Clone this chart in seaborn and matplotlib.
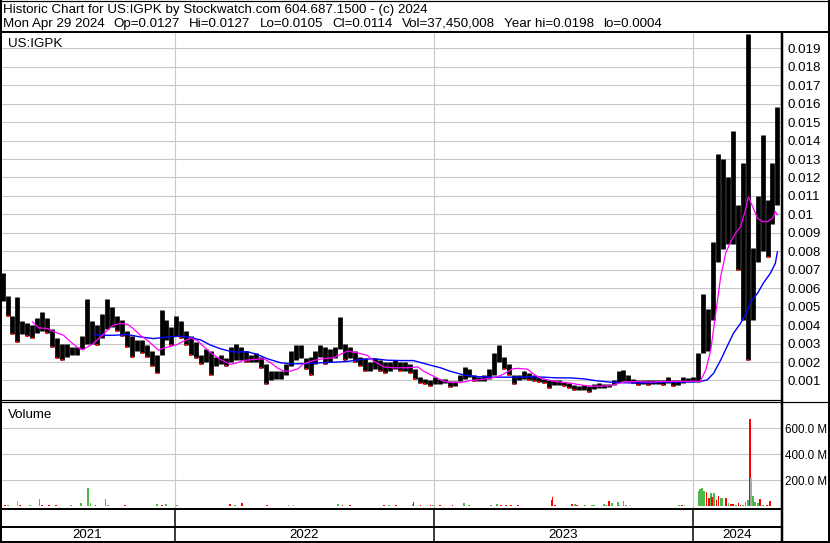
import numpy as np
import pandas as pd
import matplotlib
matplotlib.use("Agg")
import matplotlib.pyplot as plt
import matplotlib.dates as mdates
from matplotlib.lines import Line2D
import seaborn as sns

# ---------------- data ----------------
START = "2021-04-30"
week_center_first = "2021-05-03"

week_high_milli = [
    6.8, 5.6, 4.5, 5.5, 4.2, 4.1, 4.0, 4.4, 4.7, 4.4,
    3.8, 3.3, 3.0, 3.0, 2.8, 2.8, 3.4, 5.4, 4.2, 4.0,
    4.6, 5.4, 5.0, 4.5, 4.3, 3.7, 3.4, 3.2, 3.2, 2.9,
    2.6, 2.4, 4.8, 4.3, 3.9, 4.5, 4.2, 3.7, 3.4, 3.1,
    2.4, 2.7, 2.6, 2.3, 2.4, 2.2, 2.8, 3.0, 2.8, 2.6,
    2.4, 2.5, 2.3, 1.9, 1.5, 1.5, 1.5, 1.9, 2.6, 2.9,
    2.9, 2.2, 2.3, 2.6, 2.9, 2.8, 2.7, 2.8, 4.45, 3.0,
    2.8, 2.6, 2.3, 2.2, 2.0, 2.2, 2.1, 2.0, 2.0, 2.1,
    2.0, 2.0, 1.9, 1.6, 1.2, 1.1, 1.0, 1.2, 1.1, 1.1,
    0.95, 0.95, 1.3, 1.75, 1.6, 1.3, 1.2, 1.3, 1.6, 2.5,
    2.9, 2.3, 1.9, 1.3, 1.3, 1.5, 1.4, 1.3, 1.2, 1.1,
    1.0, 1.0, 1.0, 0.9, 0.85, 0.75, 0.7, 0.75, 0.7, 0.8,
    0.85, 0.8, 0.8, 1.05, 1.5, 1.55, 1.3, 1.1, 1.05, 1.0,
    1.0, 1.0, 1.0, 1.0, 1.2, 1.05, 1.0, 1.2, 1.15, 1.2,
    2.5, 5.7, 4.9, 8.5, 13.3, 13.0, 12.0, 14.5, 10.5, 12.8,
    19.8, 8.2, 11.0, 14.3, 10.8, 12.8, 15.8,
]
week_low_milli = [
    5.3, 4.5, 3.5, 3.1, 3.5, 3.4, 3.3, 3.6, 3.7, 3.6,
    2.8, 2.2, 2.1, 2.3, 2.4, 2.4, 2.7, 3.0, 3.0, 2.9,
    3.3, 3.8, 3.9, 3.7, 3.4, 2.8, 2.3, 2.6, 2.5, 2.3,
    1.8, 1.4, 2.6, 3.2, 2.9, 3.4, 3.3, 2.9, 2.4, 2.2,
    1.9, 2.0, 1.3, 1.8, 1.9, 1.8, 2.0, 2.1, 2.1, 2.0,
    2.0, 2.0, 1.7, 0.8, 1.0, 1.1, 1.1, 1.3, 1.8, 2.1,
    2.2, 1.6, 1.3, 1.9, 2.3, 1.9, 2.0, 2.2, 2.7, 2.1,
    2.2, 2.0, 1.8, 1.5, 1.5, 1.6, 1.5, 1.4, 1.5, 1.6,
    1.5, 1.5, 1.4, 1.1, 0.85, 0.8, 0.7, 0.8, 0.8, 0.85,
    0.65, 0.7, 0.95, 1.1, 1.2, 0.95, 0.95, 0.95, 1.1, 1.3,
    2.0, 1.6, 1.3, 0.8, 1.0, 1.1, 1.05, 0.95, 0.9, 0.85,
    0.6, 0.75, 0.75, 0.7, 0.6, 0.5, 0.5, 0.5, 0.4, 0.55,
    0.6, 0.6, 0.65, 0.75, 0.9, 0.95, 0.95, 0.85, 0.75, 0.8,
    0.75, 0.8, 0.8, 0.75, 0.85, 0.7, 0.75, 0.85, 0.9, 0.9,
    0.9, 2.5, 2.6, 4.3, 7.4, 8.1, 8.4, 8.4, 7.0, 4.3,
    2.1, 4.3, 7.4, 8.0, 7.7, 9.5, 10.5,
]

# short moving average (magenta): day offset from START, value (thousandths)
mag_day = [45, 54, 66, 75, 89, 99, 109, 116, 123, 131, 141, 151, 159, 169, 179, 187,
           197, 207, 216, 223, 230, 240, 249, 258, 268, 278, 282, 296, 310, 324, 334,
           342, 357, 371, 381, 390, 399, 409, 419, 427, 441, 455, 469, 479, 489, 503,
           517, 526, 540, 554, 574, 588, 596, 610, 624, 634, 648, 662, 676, 691, 705,
           715, 722, 729, 743, 751, 761, 775, 789, 803, 822, 841, 860, 878, 898, 916,
           934, 954, 972, 986, 994, 1001, 1008, 1015, 1022, 1029, 1036, 1043, 1050,
           1054, 1060, 1067, 1074, 1081, 1088, 1092, 1095]
mag_milli = [4.18, 3.85, 3.82, 3.64, 3.45, 3.09, 2.78, 2.67, 2.82, 3.0, 3.36, 3.73, 4.0,
             4.09, 4.05, 3.82, 3.45, 3.18, 2.87, 2.64, 2.76, 2.85, 2.95, 3.13, 3.3, 3.15,
             3.0, 2.5, 2.14, 1.87, 1.96, 2.08, 2.14, 2.18, 1.96, 1.69, 1.51, 1.51, 1.63,
             1.9, 2.08, 2.18, 2.23, 2.41, 2.59, 2.5, 2.36, 2.05, 1.74, 1.69, 1.69, 1.74,
             1.51, 1.24, 0.96, 0.9, 0.88, 1.0, 1.05, 1.12, 1.27, 1.48, 1.63, 1.66, 1.61,
             1.36, 1.13, 1.0, 0.91, 0.86, 0.73, 0.68, 0.73, 0.91, 0.95, 0.91, 0.95, 0.95,
             0.96, 0.95, 1.57, 2.65, 4.64, 6.63, 7.89, 8.52, 8.98, 9.34, 10.24, 10.96,
             10.42, 9.79, 9.61, 9.61, 9.79, 10.15, 9.97]

# long moving average (blue)
blue_day = [131, 141, 159, 179, 197, 216, 235, 254, 268, 282, 296, 310, 328, 348, 362,
            376, 395, 413, 433, 451, 469, 489, 507, 526, 545, 564, 582, 602, 620, 634,
            653, 672, 691, 709, 729, 747, 765, 785, 803, 822, 841, 860, 878, 898, 916,
            934, 954, 972, 986, 996, 1005, 1015, 1025, 1033, 1043, 1053, 1057, 1067,
            1075, 1085, 1092, 1095]
blue_milli = [3.51, 3.45, 3.45, 3.49, 3.36, 3.27, 3.36, 3.4, 3.33, 3.2, 2.92, 2.72, 2.54,
              2.56, 2.41, 2.18, 1.96, 1.9, 1.92, 1.96, 1.99, 2.03, 2.14, 2.18, 2.1, 2.08,
              2.08, 1.87, 1.69, 1.5, 1.3, 1.21, 1.18, 1.18, 1.18, 1.21, 1.18, 1.14, 1.14,
              1.09, 0.98, 0.91, 0.88, 0.86, 0.88, 0.91, 0.91, 0.93, 0.95, 1.03, 1.39, 2.11,
              2.92, 3.56, 4.1, 4.82, 5.27, 5.73, 6.27, 6.81, 7.35, 7.98]

# daily volume bars (day offset from START, millions, colour code g/r/k)
vol_day = [1, 6, 11, 24, 27, 42, 55, 58, 68, 78, 100, 113, 124, 127, 134, 148, 151, 158,
           166, 176, 197, 211, 221, 228, 233, 249, 275, 289, 324, 331, 341, 376, 406, 413,
           451, 476, 482, 493, 540, 547, 557, 581, 582, 592, 606, 610, 620, 637, 653, 660,
           669, 691, 700, 705, 712, 719, 729, 758, 777, 778, 781, 786, 806, 810, 813, 824,
           834, 837, 850, 853, 858, 862, 870, 872, 878, 881, 888, 898, 909, 947, 956, 960,
           964, 984, 986, 989, 992, 995, 998, 1001, 1003, 1006, 1009, 1012, 1015, 1017,
           1022, 1026, 1029, 1032, 1036, 1040, 1043, 1047, 1050, 1053, 1056, 1058, 1060,
           1063, 1067, 1070, 1071, 1075, 1080, 1085, 1089, 1093, 1095]
vol_m = [112, 10, 8, 41, 10, 8, 56, 10, 8, 8, 8, 23, 143, 23, 10, 56, 10, 5,
         5, 8, 5, 5, 18, 10, 18, 8, 5, 5, 20, 8, 28, 8, 8, 8,
         5, 20, 8, 8, 8, 8, 8, 20, 36, 8, 8, 8, 8, 8, 28, 8,
         5, 8, 18, 10, 10, 10, 10, 5, 50, 72, 10, 5, 18, 18, 10, 8,
         10, 10, 18, 8, 41, 23, 36, 10, 41, 8, 8, 5, 5, 5, 10, 8,
         8, 120, 136, 143, 120, 110, 66, 100, 70, 100, 50, 79, 60, 63,
         63, 23, 15, 15, 10, 23, 10, 10, 36, 49, 672, 220, 80,
         36, 23, 56, 36, 10, 10, 41, 10, 41, 20]
vol_col = list("krgkrggrrrggggrgg"
               "rrrrggrgg"
               "rkrgrrgk"
               "ggrrrgrkrrrgrrgg"
               "gggrrrrg"
               "rrrrrgrgg"
               "gggrgggggkkrrgr"
               "gg"
               "gggrrgrgrrggrgrrgrrgggrkgggrrgrr")

years = ["2021", "2022", "2023", "2024"]
price_ticks = [0.001, 0.002, 0.003, 0.004, 0.005, 0.006, 0.007, 0.008, 0.009, 0.010,
               0.011, 0.012, 0.013, 0.014, 0.015, 0.016, 0.017, 0.018, 0.019]
vol_ticks = [200, 400, 600]
title1 = "Historic Chart for US:IGPK by Stockwatch.com 604.687.1500 - (c) 2024"
title2_parts = ["Mon Apr 29 2024", "Op=0.0127", "Hi=0.0127", "Lo=0.0105", "Cl=0.0114",
                "Vol=37,450,008", "Year hi=0.0198", "lo=0.0004"]

# ---------------- frames ----------------
start = pd.Timestamp(START)
weeks = pd.date_range(week_center_first, periods=len(week_high_milli), freq="7D")
hi = np.array(week_high_milli) / 1000.0
lo = np.array(week_low_milli) / 1000.0
# a weekly range is joined to the previous week's range (prices move continuously)
prev_hi = np.r_[hi[0], hi[:-1]]
prev_lo = np.r_[lo[0], lo[:-1]]
draw_lo = np.where(lo > prev_hi, prev_hi, lo)
draw_hi = np.where(hi < prev_lo, prev_lo, hi)
price = pd.DataFrame({"date": weeks, "high": hi, "low": lo,
                      "dlo": draw_lo, "dhi": draw_hi})
price["down"] = price["low"] < price["low"].shift(1)
mag = pd.DataFrame({"date": start + pd.to_timedelta(mag_day, unit="D"),
                    "v": np.array(mag_milli) / 1000.0})
blue = pd.DataFrame({"date": start + pd.to_timedelta(blue_day, unit="D"),
                     "v": np.array(blue_milli) / 1000.0})
n = min(len(vol_day), len(vol_m), len(vol_col))
vol = pd.DataFrame({"date": start + pd.to_timedelta(vol_day[:n], unit="D"),
                    "v": vol_m[:n], "c": vol_col[:n]})
cmap = {"g": "#4CB84C", "r": "#FF0000", "k": "#A8A8A8"}

# ---------------- layout ----------------
sns.set_theme(style="white")
plt.rcParams["font.family"] = ["Liberation Sans", "DejaVu Sans"]
W, H = 830, 543
fig = plt.figure(figsize=(W / 100, H / 100), dpi=100)
fig.patch.set_facecolor("white")


def rect(x0, y0, x1, y1):
    return [x0 / W, 1 - y1 / H, (x1 - x0) / W, (y1 - y0) / H]


def fline(x0, y0, x1, y1, lw=1.0, color="black"):
    fig.add_artist(Line2D([x0 / W, x1 / W], [1 - y0 / H, 1 - y1 / H],
                          transform=fig.transFigure, color=color, lw=lw * 0.72,
                          solid_capstyle="butt", zorder=50))


d2022 = mdates.date2num(pd.Timestamp("2022-01-01"))
d2024 = mdates.date2num(pd.Timestamp("2024-01-01"))
XL = (d2022 - 246.6, d2024 + 125.4)
year_bounds = [pd.Timestamp(f"{y}-01-01") for y in ("2022", "2023", "2024")]
GRID = "#C8C8C8"
FS = 9.6

# price panel
ax = fig.add_axes(rect(0, 33, 782, 400))
ax.set_facecolor("white")
for t in price_ticks:
    ax.axhline(t, color=GRID, lw=0.8, zorder=0)
for b in year_bounds:
    ax.axvline(b, color=GRID, lw=0.8, zorder=0)
ax.vlines(price["date"], price["dlo"], price["dhi"], color="black", lw=3.4, zorder=2)
dn = price[price["down"]]
sns.scatterplot(x=dn["date"], y=dn["low"], ax=ax, color="#FF0000", marker="s", s=4,
                linewidth=0, zorder=3, legend=False)
sns.lineplot(data=blue, x="date", y="v", ax=ax, color="#0000FF", lw=1.0, zorder=4)
sns.lineplot(data=mag, x="date", y="v", ax=ax, color="#FF00FF", lw=0.9, zorder=5)
ax.set_xlim(*XL)
ax.set_ylim(-0.000057, 0.01983)
ax.set_xticks([])
ax.set_xlabel("")
ax.set_ylabel("")
ax.yaxis.tick_right()
ax.set_yticks(price_ticks)
ax.set_yticklabels([f"{t:g}" for t in price_ticks], fontsize=FS, color="black")
ax.tick_params(axis="y", length=0, pad=4)
for s in ax.spines.values():
    s.set_visible(False)
fig.text(8 / W, 1 - 46.5 / H, "US:IGPK", fontsize=FS, color="black", va="baseline")

# volume panel
axv = fig.add_axes(rect(0, 402, 782, 509))
axv.set_facecolor("white")
axv.set_xlim(*XL)
axv.set_ylim(-21, 802)
for t in vol_ticks:
    axv.axhline(t, color=GRID, lw=0.8, zorder=0)
for b in year_bounds:
    axv.axvline(b, color=GRID, lw=0.8, zorder=0)
axv.bar(vol["date"], vol["v"], width=2.6, color=[cmap[c] for c in vol["c"]],
        linewidth=0, zorder=2)
axv.set_xticks([])
axv.yaxis.tick_right()
axv.set_yticks(vol_ticks)
axv.set_yticklabels([f"{t:.1f} M" for t in vol_ticks], fontsize=8.4, color="black")
axv.tick_params(axis="y", length=0, pad=2.5)
for s in axv.spines.values():
    s.set_visible(False)
fig.text(8 / W, 1 - 418 / H, "Volume", fontsize=FS, color="black")

# year strip
axy = fig.add_axes(rect(0, 527, 782, 542))
axy.set_xlim(*XL)
axy.set_ylim(0, 1)
axy.axis("off")
edges = [XL[0]] + [mdates.date2num(b) for b in year_bounds] + [XL[1]]
for i, y in enumerate(years):
    axy.text((edges[i] + edges[i + 1]) / 2, 0.45, y, ha="center", va="center",
             fontsize=FS, color="black")

# title: first line, then the quote line laid out piece by piece (start 3px, end 662px)
fig.text(3 / W, 1 - 13 / H, title1, fontsize=FS, color="black", va="baseline")
renderer = fig.canvas.get_renderer()
pieces = [fig.text(0, 1 - 27 / H, p, fontsize=FS, color="black", va="baseline")
          for p in title2_parts]
widths = [t.get_window_extent(renderer).width for t in pieces]
gap = (662 - 3 - sum(widths)) / (len(pieces) - 1)
xcur = 3.0
for t, w in zip(pieces, widths):
    t.set_x(xcur / W)
    xcur += w + gap

# frame lines
fline(0, 0.5, 830, 0.5, 1.2)
fline(0, 32, 830, 32, 2)
fline(1, 0, 1, 543, 2)
fline(829, 0, 829, 543, 2)
fline(781.5, 33, 781.5, 543, 2.5)
fline(0, 400, 782, 400, 1.2)
fline(0, 402, 830, 402, 1.2)
fline(0, 509, 782, 509, 2)
fline(0, 527, 782, 527, 2)
fline(0, 542, 830, 542, 2)
for xb in (175, 434, 693):
    fline(xb, 509, xb, 543, 1.5)

fig.savefig("out.png", dpi=100, facecolor="white")
